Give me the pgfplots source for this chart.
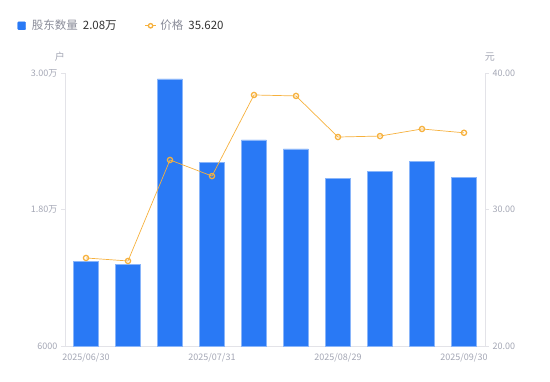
\documentclass[border=0pt]{standalone}
\usepackage{pgfplots}
\pgfplotsset{compat=1.18}
\usepackage{fontspec}
\setmainfont{Noto Sans CJK SC}
\definecolor{barblue}{HTML}{2979F5}
\definecolor{lineor}{HTML}{F6B13D}
\definecolor{tickgray}{HTML}{A3A6B4}
\definecolor{axgray}{HTML}{E3E3E8}
\definecolor{legtxt}{HTML}{8A8C99}
\definecolor{legval}{HTML}{333333}
\begin{document}
\begin{tikzpicture}
\path[use as bounding box] (-65pt,-35pt) rectangle (485pt,346pt);
\begin{axis}[
  at={(0,0)}, anchor=south west,
  scale only axis, width=420pt, height=273pt,
  xmin=-0.5, xmax=9.5, ymin=6000, ymax=30000,
  scaled y ticks=false,
  axis x line*=bottom, axis y line*=left,
  axis line style={draw=axgray, line width=0.8pt},
  ytick={6000,18000,30000}, yticklabels={6000,1.80万,3.00万},
  xtick={0,3,6,9}, xticklabels={2025/06/30,2025/07/31,2025/08/29,2025/09/30},
  x tick style={draw=none},
  y tick style={draw=axgray, line width=0.8pt},
  tick align=outside, major tick length=4pt,
  tick label style={font=\fontsize{9}{10}\selectfont, text=tickgray},
  /pgf/number format/assume math mode=true,
  ybar, bar width=25pt,
  clip=false,
]
\addplot[fill=barblue, draw=barblue!55!white, line width=0.5pt] coordinates {
(0,13450) (1,13180) (2,29480) (3,22120) (4,24130) (5,23340) (6,20720) (7,21330) (8,22200) (9,20800)};
\node[font=\fontsize{10}{12}\selectfont, text=tickgray] at (rel axis cs:0,1) [xshift=-5pt, yshift=16pt] {户};
\end{axis}
\begin{axis}[
  at={(0,0)}, anchor=south west,
  scale only axis, width=420pt, height=273pt,
  xmin=-0.5, xmax=9.5, ymin=20, ymax=40,
  axis x line=none, axis y line*=right,
  axis line style={draw=axgray, line width=0.8pt},
  ytick={20,30,40}, yticklabels={20.00,30.00,40.00},
  y tick style={draw=axgray, line width=0.8pt},
  tick align=outside, major tick length=4pt,
  tick label style={font=\fontsize{9}{10}\selectfont, text=tickgray},
  /pgf/number format/assume math mode=true,
  clip=false,
  legend columns=2,
  legend style={draw=none, fill=none, at={(-0.1207,1.173)}, anchor=west,
    font=\fontsize{11.5}{13}\selectfont,
    /tikz/every even column/.append style={column sep=26pt}},
]
\addlegendimage{legend image code/.code={\fill[barblue, rounded corners=1pt] (0pt,-4pt) rectangle (8pt,4pt);}}
\addlegendentry{\hspace{4pt}{\color{legtxt}股东数量}\hspace{5pt}{\color{legval}2.08万}}
\addplot[color=lineor, line width=0.7pt, mark=o, mark size=2.6pt,
  mark options={fill=white, line width=1.3pt},
  legend image code/.code={\draw[lineor, line width=0.7pt] (0pt,0pt)--(11pt,0pt); \draw[lineor, fill=white, line width=1.3pt] (5.5pt,0pt) circle (2.2pt);}]
coordinates {
(0,26.45) (1,26.23) (2,33.63) (3,32.45) (4,38.39) (5,38.32) (6,35.31) (7,35.38) (8,35.90) (9,35.62)};
\addlegendentry{\hspace{2pt}{\color{legtxt}价格}\hspace{5pt}{\color{legval}35.620}}
\node[font=\fontsize{10}{12}\selectfont, text=tickgray] at (rel axis cs:1,1) [xshift=5pt, yshift=16pt] {元};
\end{axis}
\end{tikzpicture}
\end{document}
